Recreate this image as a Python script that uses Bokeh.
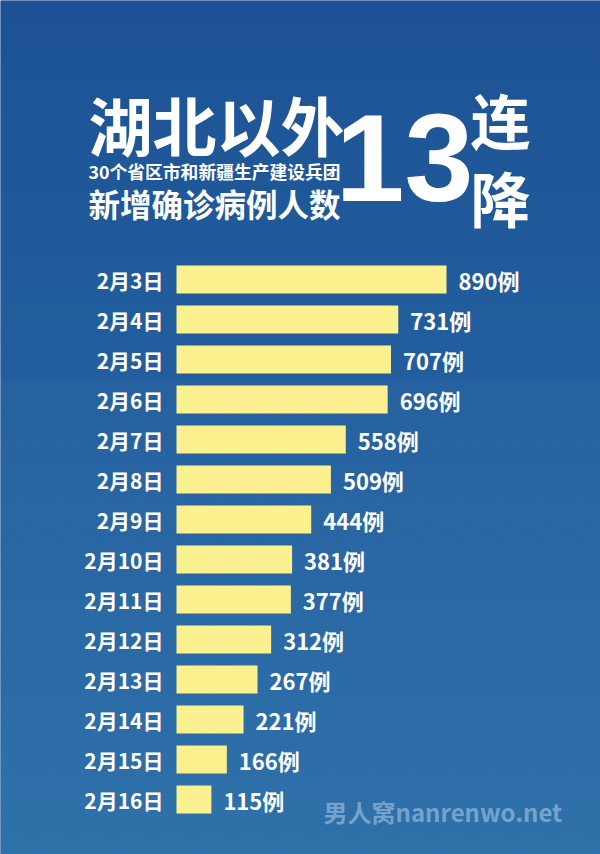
from bokeh.plotting import figure
from bokeh.models import Range1d, ColumnDataSource
from bokeh.core.properties import value
from bokeh.embed import file_html
from bokeh.resources import INLINE

# ---- data ----
dates = ["2月3日", "2月4日", "2月5日", "2月6日", "2月7日", "2月8日", "2月9日",
         "2月10日", "2月11日", "2月12日", "2月13日", "2月14日", "2月15日", "2月16日"]
cases = [890, 731, 707, 696, 558, 509, 444, 381, 377, 312, 267, 221, 166, 115]
unit = "例"
title_main = "湖北以外"
title_sub = "30个省区市和新疆生产建设兵团"
title_sub2 = "新增确诊病例人数"
big_num = "13"
big_chars = ["连", "降"]
watermark = "男人窝nanrenwo.net"

# ---- layout ----
W, H = 600, 854
X0_PX = 176          # pixel where 0 cases sits
PX_PER_CASE = 270 / 890
ROW0_PY = 279        # pixel of first row centre
ROW_PX = 40          # pixels per row

def fx(px):
    return (px - X0_PX) / PX_PER_CASE

def fy(py):
    return (py - ROW0_PY) / ROW_PX

x_start, x_end = fx(0), fx(W)
y_top, y_bot = fy(0), fy(H)

p = figure(width=W, height=H, output_backend="svg", toolbar_location=None,
           x_range=Range1d(x_start, x_end), y_range=Range1d(y_bot, y_top),
           min_border=0)
p.axis.visible = False
p.grid.visible = False
p.outline_line_color = None
p.background_fill_color = "#1d5396"
p.border_fill_color = "#1d5396"

# background gradient
def lerp(c1, c2, t):
    a = [int(c1[i:i + 2], 16) for i in (1, 3, 5)]
    b = [int(c2[i:i + 2], 16) for i in (1, 3, 5)]
    return "#%02x%02x%02x" % tuple(round(a[k] + (b[k] - a[k]) * t) for k in range(3))

N = 80
g_top = [y_top + (y_bot - y_top) * k / N for k in range(N)]
g_bot = [y_top + (y_bot - y_top) * (k + 1.05) / N for k in range(N)]
g_col = [lerp("#1c5295", "#2b6fa9", k / (N - 1)) for k in range(N)]
p.quad(left=x_start, right=x_end, top=g_top, bottom=g_bot, fill_color=g_col,
       line_color=None)

# subtle diagonal texture on background
p.quad(left=x_start, right=x_end, top=fy(380), bottom=y_bot, fill_alpha=0,
       line_color=None, hatch_pattern="/", hatch_color="white", hatch_alpha=0.035,
       hatch_scale=5, hatch_weight=1)

rows = list(range(len(dates)))
src = ColumnDataSource(dict(row=rows, date=dates, cases=cases,
                            label=[f"{v}{unit}" for v in cases]))

p.hbar(y="row", left=0, right="cases", height=0.7, fill_color="#fdf08e",
       line_color=None, source=src)

CJK = value("Noto Sans CJK SC")
p.text(x=0, y="row", text="date", x_offset=-13, text_align="right",
       text_baseline="middle", text_font=CJK, text_font_style="bold",
       text_font_size="21px", text_color="white", source=src)
p.text(x="cases", y="row", text="label", x_offset=12, text_align="left",
       text_baseline="middle", text_font=CJK, text_font_style="bold",
       text_font_size="22px", text_color="white", source=src)

# ---- titles ----
def t(txt, px, py, size, align="left", font=CJK, color="white", alpha=1.0):
    p.text(x=[fx(px)], y=[fy(py)], text=[txt], text_align=align,
           text_baseline="middle", text_font=font, text_font_style="bold",
           text_font_size=size, text_color=color, text_alpha=alpha)

t(title_main, 88, 122, "64px")
t(title_sub, 88, 170, "17.8px")
t(title_sub2, 88, 202, "31.5px")
t(big_num, 404, 157, "124px", align="center", font=value("Liberation Sans"))
t(big_chars[0], 470, 118, "60px")
t(big_chars[1], 470, 196, "60px")

t(watermark, 323, 811, "24px",
  font=value("'Noto Sans CJK SC', sans-serif"),
  color="#b5d0ea", alpha=0.55)

open("out.html", "w").write(file_html(p, INLINE))
